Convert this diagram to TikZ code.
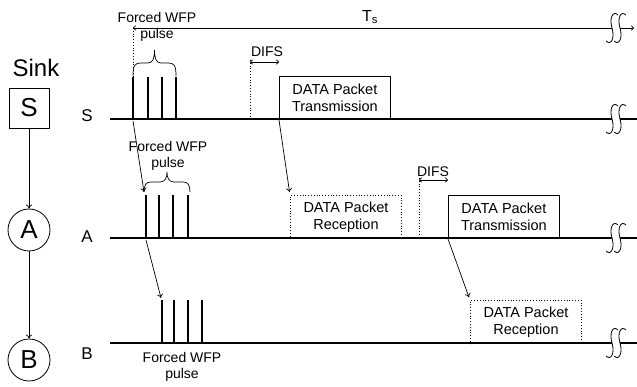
\documentclass[tikz,border=0pt]{standalone}
\usepackage{fontspec}
\setmainfont{Liberation Sans}
\usetikzlibrary{arrows.meta}
\begin{document}
\begin{tikzpicture}[x=1pt,y=-1pt,
  tl/.style={line width=1.3pt},
  pbar/.style={line width=2.8pt},
  conn/.style={-{To[length=4pt,width=6pt]}, line width=0.7pt},
  dimarr/.style={{To[length=3pt,width=5pt]}-{To[length=3pt,width=5pt]}, line width=0.7pt},
  dotl/.style={dotted, line width=0.8pt},
  brc/.style={line width=0.7pt},
  small/.style={font=\fontsize{14}{16}\selectfont, align=center, inner sep=0pt},
  lnlab/.style={font=\fontsize{17}{19}\selectfont, inner sep=0pt},
  bigl/.style={font=\fontsize{26}{30}\selectfont, inner sep=0pt, line width=0.8pt, draw},
  pbox/.style={draw, line width=0.8pt, anchor=south west, align=center, inner sep=0pt,
    font=\fontsize{14.5}{17}\selectfont, minimum width=111pt, minimum height=43pt},
  txbox/.style={pbox},
  rxbox/.style={pbox, dotted, line width=0.9pt},
  brk/.pic={
    \fill[white] (6,-13) .. controls (1,-18) and (-3,-10) .. (0,0) .. controls (3,10) and (-1,18) .. (-6,13)
      -- (2,13) .. controls (7,18) and (11,10) .. (8,0) .. controls (5,-10) and (9,-18) .. (14,-13) -- cycle;
    \draw[line width=0.8pt] (6,-13) .. controls (1,-18) and (-3,-10) .. (0,0) .. controls (3,10) and (-1,18) .. (-6,13);
    \draw[line width=0.8pt] (14,-13) .. controls (9,-18) and (5,-10) .. (8,0) .. controls (11,10) and (7,18) .. (2,13);
  }
]
\useasboundingbox (0,0) rectangle (637,387);

% left column
\node[font=\fontsize{24}{28}\selectfont, inner sep=0pt] (sink) at (36,68) {Sink};
\node[bigl, minimum size=40pt] (sbox) at (29,108) {S};
\node[bigl, circle, minimum size=42pt] (ca) at (29,230) {A};
\node[bigl, circle, minimum size=42pt] (cb) at (29,360) {B};
\draw[conn] (sbox.south) -- (ca.north);
\draw[conn] (ca.south) -- (cb.north);

% line labels
\node[lnlab] (labS) at (87,116) {S};
\node[lnlab] (labA) at (87,237) {A};
\node[lnlab] (labB) at (87,354) {B};

% timelines
\coordinate (s0) at (110,119); \coordinate (s1) at (637,119);
\coordinate (a0) at (110,238); \coordinate (a1) at (637,238);
\coordinate (b0) at (110,343); \coordinate (b1) at (637,343);
\draw[tl] (s0) -- (s1);
\draw[tl] (a0) -- (a1);
\draw[tl] (b0) -- (b1);

% Ts
\coordinate (t0) at (133,28); \coordinate (t1) at (634,28);
\draw[dimarr] (t0) -- (t1);
\draw[dotl] (t0) -- (133,119);
\node[font=\fontsize{16}{18}\selectfont, inner sep=0pt] (ts) at (370,17) {T\textsubscript{s}};

% break symbols
\pic at (612,28) {brk};
\pic at (612,119) {brk};
\pic at (612,238) {brk};
\pic at (612,343) {brk};

% S pulses
\foreach \x in {133,148,162,176} \draw[pbar] (\x,119) -- (\x,77);
\draw[brc] (133,76) .. controls (133,65) and (135,63) .. (141,63) -- (148,63)
  .. controls (153,63) and (154.5,58) .. (154.5,50)
  .. controls (154.5,58) and (156,63) .. (161,63) -- (168,63)
  .. controls (174,63) and (176,65) .. (176,76);
\node[small] (fwS) at (157,27) {Forced WFP\\pulse};

% S DIFS
\draw[dotl] (250,60) -- (250,119);
\coordinate (dS0) at (250,62); \coordinate (dS1) at (279,62);
\draw[dimarr] (dS0) -- (dS1);
\node[small] (difsS) at (267,52) {DIFS};

% S transmission
\node[txbox] (trS) at (279,120) {DATA Packet\\Transmission};

% A pulses
\foreach \x in {146,159,173,188} \draw[pbar] (\x,238) -- (\x,195);
\draw[brc] (144,192) .. controls (144,185) and (146,182) .. (151,182) -- (160,182)
  .. controls (165,182) and (167,178) .. (167,172)
  .. controls (167,178) and (169,182) .. (174,182) -- (183,182)
  .. controls (188,182) and (190,185) .. (190,192);
\node[small] (fwA) at (168,156) {Forced WFP\\pulse};

% S -> A arrows
\coordinate (pS) at (133,121);
\coordinate (pA) at (144,192);
\draw[conn] (pS) -- (pA);
\node[rxbox] (rcA) at (290,239) {DATA Packet\\Reception};
\draw[conn, shorten >=3pt] (trS.south west) -- (rcA.north west);

% A DIFS
\draw[dotl] (419,178) -- (419,238);
\coordinate (dA0) at (419,180); \coordinate (dA1) at (448,180);
\draw[dimarr] (dA0) -- (dA1);
\node[small] (difsA) at (433,172) {DIFS};

% A transmission
\node[txbox] (trA) at (448,239) {DATA Packet\\Transmission};

% B pulses
\foreach \x in {162,174,188,202} \draw[pbar] (\x,343) -- (\x,300);
\node[small] (fwB) at (182,367) {Forced WFP\\pulse};

% A -> B arrows
\coordinate (pA2) at (146,240);
\coordinate (pB) at (161,298);
\draw[conn] (pA2) -- (pB);
\node[rxbox] (rcB) at (470,344) {DATA Packet\\Reception};
\draw[conn, shorten >=3pt] (trA.south west) -- (rcB.north west);
\end{tikzpicture}
\end{document}
